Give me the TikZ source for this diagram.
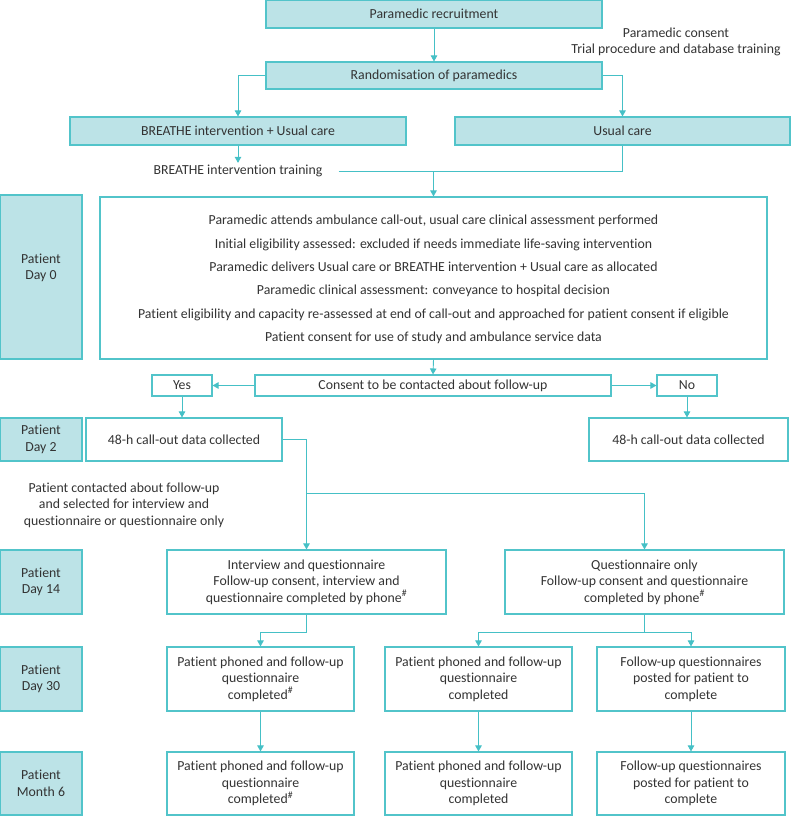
\documentclass[tikz,border=0pt]{standalone}
\usepackage{fontspec}
\setmainfont{Carlito}[Ligatures={NoCommon}]
\usetikzlibrary{arrows.meta}
\definecolor{tfill}{HTML}{BCE3E7}
\definecolor{tline}{HTML}{52C4CA}
\definecolor{tarrow}{HTML}{45C0C6}
\definecolor{ttext}{HTML}{333333}
\tikzset{
  base/.style={draw=tline, line width=1.1pt, inner sep=0pt, text=ttext, align=center,
    font=\fontsize{13.8}{16.5}\selectfont},
  tbox/.style={base, fill=tfill},
  wbox/.style={base, fill=white},
  lbl/.style={text=ttext, align=center, inner xsep=2pt, inner ysep=2pt, font=\fontsize{13.8}{16.5}\selectfont},
  conn/.style={draw=tarrow, line width=0.9pt},
  arr/.style={conn, -{Triangle[width=6.5pt,length=6pt]}},
}
\begin{document}
\begin{tikzpicture}[x=1pt,y=-1pt]
\useasboundingbox (0,0) rectangle (792,816);
% top
\node[tbox, minimum width=336pt, minimum height=28pt] (rec) at (434,14) {Paramedic recruitment};
\node[tbox, minimum width=336pt, minimum height=27pt] (rand) at (434,75.5) {Randomisation of paramedics};
\node[lbl] (pc) at (676,42) {Paramedic consent\\Trial procedure and database training};
\node[tbox, minimum width=336pt, minimum height=28pt] (bre) at (238,131) {BREATHE intervention + Usual care};
\node[tbox, minimum width=335pt, minimum height=28pt] (uc) at (622.5,131) {Usual care};
\node[lbl] (train) at (238,171) {BREATHE intervention training};
% day 0
\node[tbox, minimum width=82pt, minimum height=164pt] (d0) at (41,277) {};
\node[lbl] (d0t) at (41,268) {Patient\\Day 0};
\node[wbox, minimum width=667pt, minimum height=162pt, font=\fontsize{13.8}{23.4}\selectfont] (main) at (433.5,278) {};
\node[lbl, font=\fontsize{13.8}{23.4}\selectfont] (maint) at (433.5,279.5)
  {Paramedic attends ambulance call-out, usual care clinical assessment performed\\
   Initial eligibility assessed: excluded if needs immediate life-saving intervention\\
   Paramedic delivers Usual care or BREATHE intervention + Usual care as allocated\\
   Paramedic clinical assessment: conveyance to hospital decision\\
   Patient eligibility and capacity re-assessed at end of call-out and approached for patient consent if eligible\\
   Patient consent for use of study and ambulance service data};
% consent
\node[wbox, minimum width=356pt, minimum height=21pt] (cons) at (433,385.5) {Consent to be contacted about follow-up};
\node[wbox, minimum width=60pt, minimum height=21pt] (yes) at (182,385.5) {Yes};
\node[wbox, minimum width=60pt, minimum height=21pt] (no) at (687,385.5) {No};
% day 2
\node[tbox, minimum width=82pt, minimum height=43pt] (d2) at (41,439.5) {Patient\\Day 2};
\node[wbox, minimum width=196pt, minimum height=43pt] (dL) at (184,439.5) {48-h call-out data collected};
\node[wbox, minimum width=199pt, minimum height=43pt] (dR) at (688.5,439.5) {48-h call-out data collected};
\node[lbl] (contact) at (124,505) {Patient contacted about follow-up\\and selected for interview and\\questionnaire or questionnaire only};
% day 14
\node[tbox, minimum width=82pt, minimum height=64pt] (d14) at (41,582) {Patient\\Day 14};
\node[wbox, minimum width=279pt, minimum height=64pt] (iq) at (306.5,582) {Interview and questionnaire\\Follow-up consent, interview and\\questionnaire completed by phone\textsuperscript{\#}};
\node[wbox, minimum width=279pt, minimum height=64pt] (qo) at (644.5,582) {Questionnaire only\\Follow-up consent and questionnaire\\completed by phone\textsuperscript{\#}};
% day 30
\node[tbox, minimum width=82pt, minimum height=64pt] (d30) at (41,679) {Patient\\Day 30};
\node[wbox, minimum width=187pt, minimum height=64pt] (b1) at (260.5,679) {Patient phoned and follow-up\\questionnaire\\completed\textsuperscript{\#}};
\node[wbox, minimum width=187pt, minimum height=64pt] (b2) at (478.5,679) {Patient phoned and follow-up\\questionnaire\\completed};
\node[wbox, minimum width=188pt, minimum height=64pt] (b3) at (691,679) {Follow-up questionnaires\\posted for patient to\\complete};
% month 6
\node[tbox, minimum width=82pt, minimum height=63pt] (m6) at (41,783.5) {Patient\\Month 6};
\node[wbox, minimum width=187pt, minimum height=63pt] (c1) at (260.5,783.5) {Patient phoned and follow-up\\questionnaire\\completed\textsuperscript{\#}};
\node[wbox, minimum width=187pt, minimum height=63pt] (c2) at (478.5,783.5) {Patient phoned and follow-up\\questionnaire\\completed};
\node[wbox, minimum width=188pt, minimum height=63pt] (c3) at (691,783.5) {Follow-up questionnaires\\posted for patient to\\complete};
% connectors
\draw[arr] (rec) -- (rand);
\draw[arr] (rand.west) -| (bre.north);
\draw[arr] (rand.east) -| (uc.north);
\draw[arr] (bre.south) -- (train.north);
\coordinate (tstart) at ([xshift=14pt]train.east);
\draw[conn] (tstart) -- (tstart -| uc.south) -- (uc.south);
\draw[arr] (tstart -| main.north) -- (main.north);
\draw[arr] (main.south) -- (cons.north);
\draw[arr] (cons.west) -- (yes.east);
\draw[arr] (cons.east) -- (no.west);
\draw[arr] (yes.south) -- (yes.south |- dL.north);
\draw[arr] (no.south) -- (no.south |- dR.north);
\coordinate (split) at (306.5,493);
\draw[arr] (dL.east) -| (iq.north);
\draw[arr] (split) -| (qo.north);
\draw[arr] (iq.south) -- ++(0,18) -| (b1.north);
\draw[arr] (qo.south) -- ++(0,18) -| (b2.north);
\draw[arr] (qo.south) -- ++(0,18) -| (b3.north);
\draw[arr] (b1) -- (c1);
\draw[arr] (b2) -- (c2);
\draw[arr] (b3) -- (c3);
\end{tikzpicture}
\end{document}
